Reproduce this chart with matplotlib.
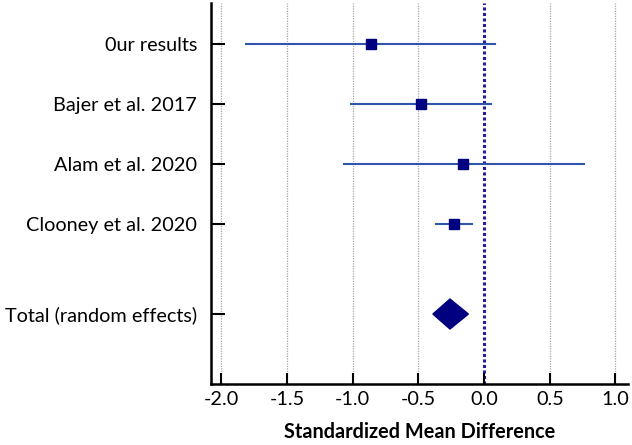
import matplotlib.pyplot as plt
from matplotlib.patches import Polygon

# Datos del forest plot
estudios = ['0ur results', 'Bajer et al. 2017', 'Alam et al. 2020', 'Clooney et al. 2020']
smd = [-0.86, -0.48, -0.16, -0.23]
ci_low = [-1.81, -1.01, -1.07, -0.37]
ci_high = [0.08, 0.05, 0.76, -0.09]
filas = [1, 2, 3, 4]

total_label = 'Total (random effects)'
total_smd = -0.26
total_low = -0.39
total_high = -0.12
total_fila = 5.5

xticks = [-2.0, -1.5, -1.0, -0.5, 0.0, 0.5, 1.0]

plt.rcParams['font.family'] = ['Lato', 'DejaVu Sans']

fig = plt.figure(figsize=(6.32, 4.45), dpi=100)
ax = fig.add_axes([0.334, 0.137, 0.66, 0.856])

# Rejilla vertical punteada
for t in xticks:
    if t != 0.0:
        ax.axvline(t, color='#a8a8a8', linestyle=(0, (1, 1)), linewidth=0.9, zorder=0)

# Linea de no efecto
ax.axvline(0.0, color='#1f1fa0', linestyle=(0, (1, 0.8)), linewidth=2.2, zorder=1)

# Intervalos y puntos
for y, m, lo, hi in zip(filas, smd, ci_low, ci_high):
    ax.plot([lo, hi], [y, y], color='#2f55a8', linewidth=1.5, zorder=2)
    ax.plot(m, y, marker='s', markersize=7.5, color='#000080', zorder=3)

# Diamante del total
diamante = Polygon([[total_low, total_fila], [total_smd, total_fila - 0.25],
                    [total_high, total_fila], [total_smd, total_fila + 0.25]],
                   closed=True, facecolor='#000080', edgecolor='#000080', zorder=3)
ax.add_patch(diamante)

ax.set_xlim(-2.079, 1.097)
ax.set_ylim(6.667, 0.317)
ax.set_xticks(xticks)
ax.set_xticklabels([f'{t:.1f}' for t in xticks])
ax.set_yticks(filas + [total_fila])
ax.set_yticklabels(estudios + [total_label])

for s in ['top', 'right']:
    ax.spines[s].set_visible(False)
for s in ['left', 'bottom']:
    ax.spines[s].set_linewidth(1.8)

ax.tick_params(axis='y', direction='in', length=10, width=1.5, labelsize=14.3, pad=10)
ax.tick_params(axis='x', direction='in', length=8, width=1.5, labelsize=14.3, pad=5)
ax.set_xlabel('Standardized Mean Difference', fontsize=14.3, fontweight='bold', labelpad=10)

fig.savefig('out.png', dpi=100)
